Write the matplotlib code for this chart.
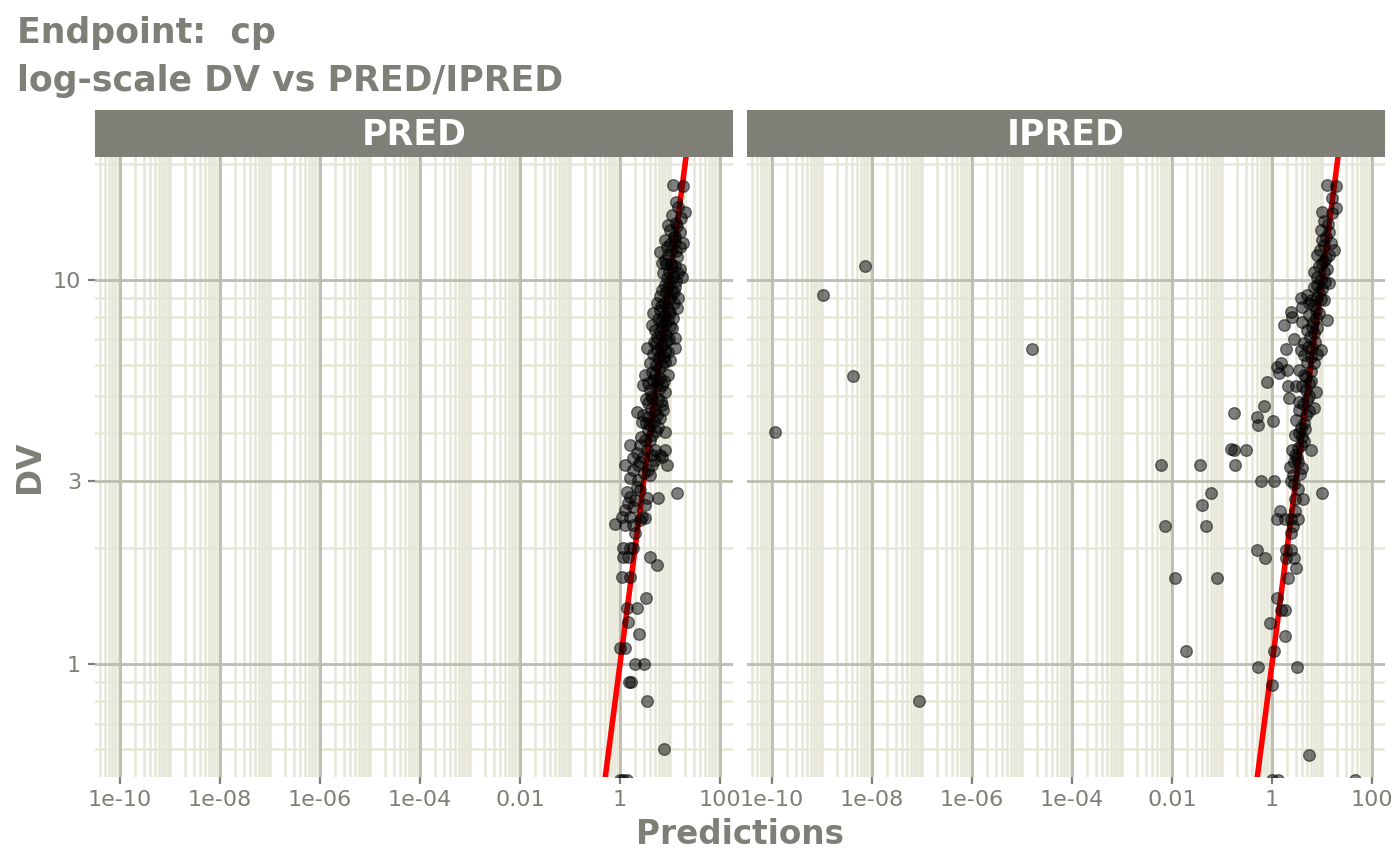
import numpy as np
import matplotlib
matplotlib.use("Agg")
import matplotlib.pyplot as plt
from matplotlib.ticker import FixedLocator, NullFormatter

# colours of the theme
text_col = '#7f7f77'
strip_col = '#7f7f77'
major_col = '#bcbcb0'
minor_col = '#e6e6d8'

# (prediction, DV) pairs
pred_pts = [
    (11.5, 17.7), (18.2, 17.6), (14.5, 15.5), (20.0, 15.0), (11.0, 14.8), (13.2, 14.1),
    (9.12, 13.9), (10.0, 13.5), (15.8, 13.3), (12.6, 13.0), (7.94, 12.7), (12.6, 12.6),
    (18.2, 12.5), (8.71, 12.2), (11.0, 12.0), (6.31, 11.8), (9.12, 11.6), (13.8, 11.5),
    (7.94, 11.3), (6.92, 11.1), (10.5, 11.0), (11.0, 10.8), (15.8, 10.7), (9.55, 10.5),
    (7.24, 10.4), (11.5, 10.2), (17.4, 10.2), (10.0, 9.9), (7.94, 9.7), (12.6, 9.6),
    (8.32, 9.3), (12.0, 9.3), (6.31, 9.1), (10.0, 9.0), (14.5, 8.98), (5.5, 8.7),
    (7.59, 8.7), (8.71, 8.5), (13.8, 8.45), (6.31, 8.35), (4.57, 8.2), (10.0, 8.2),
    (7.24, 8.0), (11.5, 7.97), (9.12, 7.87), (6.61, 7.8), (4.37, 7.64), (6.92, 7.55),
    (11.0, 7.5), (5.01, 7.41), (8.32, 7.2), (5.5, 7.1), (8.71, 6.98), (12.6, 7.06),
    (4.79, 6.9), (7.24, 6.77), (3.47, 6.65), (5.5, 6.57), (9.12, 6.5), (12.6, 6.65),
    (7.59, 6.3), (5.75, 6.25), (10.0, 6.19), (3.98, 6.07), (6.92, 6.01), (6.03, 5.9),
    (3.16, 5.66), (4.37, 5.76), (9.12, 5.66), (4.57, 5.5), (5.5, 5.49), (2.88, 5.33),
    (6.92, 5.33), (5.25, 5.3), (3.98, 5.17), (7.94, 5.1), (4.37, 4.93), (5.75, 4.9),
    (3.31, 4.9), (3.63, 4.78), (6.92, 4.73), (5.01, 4.59), (7.24, 4.59), (2.19, 4.53),
    (2.88, 4.45), (3.63, 4.4), (6.31, 4.37), (4.79, 4.3), (2.75, 4.27), (3.98, 4.19),
    (5.75, 4.14), (3.63, 4.07), (7.94, 4.02), (3.16, 3.83), (3.98, 3.83), (1.58, 3.72),
    (2.51, 3.72), (5.01, 3.61), (7.94, 3.61), (2.19, 3.55), (6.31, 3.5), (2.88, 3.46),
    (6.92, 3.46), (1.82, 3.44), (5.01, 3.4), (2.51, 3.36), (1.26, 3.3), (4.37, 3.3),
    (8.71, 3.3), (1.82, 3.2), (3.63, 3.2), (3.98, 3.11), (1.58, 3.05), (2.29, 3.01),
    (2.19, 2.89), (2.51, 2.84), (1.38, 2.8), (13.8, 2.79), (1.58, 2.72), (3.47, 2.7),
    (5.75, 2.7), (2.0, 2.67), (1.45, 2.62), (3.16, 2.59), (1.82, 2.56), (1.26, 2.52),
    (1.1, 2.41), (1.58, 2.41), (2.75, 2.41), (3.16, 2.4), (2.51, 2.37), (0.79, 2.31),
    (1.26, 2.3), (1.82, 2.3), (2.0, 2.19), (1.15, 2.0), (1.58, 2.0), (1.82, 2.0),
    (1.15, 1.9), (1.45, 1.9), (3.98, 1.9), (5.5, 1.81), (1.1, 1.69), (1.58, 1.69),
    (3.31, 1.49), (1.38, 1.4), (2.19, 1.4), (1.45, 1.29), (2.4, 1.2), (1.0, 1.1),
    (1.26, 1.1), (2.0, 1.0), (3.02, 1.0), (1.51, 0.9), (1.66, 0.9), (3.47, 0.8),
    (7.59, 0.6), (1.0, 0.5), (1.15, 0.5), (1.38, 0.5),
    (13.0, 16.0), (16.5, 14.5), (14.0, 13.8), (11.8, 12.9), (16.0, 12.2), (9.8, 12.4),
    (13.2, 11.9), (8.5, 11.0), (12.5, 10.9), (14.5, 10.4), (8.9, 10.1), (13.0, 9.95),
    (9.3, 9.6), (11.2, 9.3), (6.9, 9.4), (9.0, 8.9), (12.1, 8.7), (6.6, 8.55),
    (9.4, 8.3), (7.8, 8.1), (5.8, 7.9), (8.1, 7.7), (9.9, 7.6), (6.2, 7.3),
    (7.0, 7.15), (9.6, 7.0), (5.3, 6.85), (6.5, 6.7), (8.0, 6.55), (4.5, 6.4),
    (6.4, 6.35), (7.8, 6.1), (5.2, 6.0), (5.0, 5.7), (6.4, 5.55), (7.6, 5.45),
    (3.7, 5.4), (6.0, 5.2), (4.1, 5.0), (6.5, 4.85), (4.2, 4.6), (5.4, 4.45),
    (3.3, 4.25), (5.3, 4.05), (4.4, 3.95), (2.6, 3.9), (3.5, 3.6), (4.4, 3.5),
    (2.3, 3.3), (3.0, 3.15),
]

ipred_pts = [
    (12.6, 17.7), (19.1, 17.6), (10.0, 15.0), (19.1, 15.4), (15.8, 14.9), (11.0, 14.2),
    (9.55, 13.5), (13.8, 13.3), (10.0, 12.7), (15.1, 12.5), (11.0, 12.3), (17.4, 12.0),
    (7.94, 11.6), (12.0, 11.4), (10.0, 11.1), (8.71, 10.9), (6.92, 10.5), (11.0, 10.5),
    (9.55, 10.0), (13.8, 9.8), (7.94, 9.7), (6.92, 9.6), (10.0, 9.5), (3.8, 8.98),
    (5.01, 9.14), (7.94, 8.98), (11.0, 8.87), (6.03, 8.87), (3.98, 8.5), (5.5, 8.7),
    (7.59, 8.35), (2.4, 8.25), (5.5, 8.1), (2.51, 8.0), (3.98, 7.78), (7.59, 7.97),
    (12.6, 7.87), (1.74, 7.64), (6.31, 7.55), (5.0, 7.4), (2.75, 7.0), (4.37, 6.85),
    (6.92, 7.28), (1.91, 6.6), (3.8, 6.57), (6.31, 6.65), (9.55, 6.57), (4.37, 6.38),
    (6.03, 6.3), (6.92, 6.07), (1.26, 5.93), (1.51, 6.07), (2.0, 5.83), (3.47, 5.83),
    (1.38, 5.73), (4.79, 5.59), (5.5, 5.39), (0.79, 5.43), (2.09, 5.3), (3.02, 5.3),
    (4.79, 5.17), (7.59, 5.1), (2.19, 4.93), (3.47, 4.8), (5.01, 4.87), (6.92, 4.63),
    (0.69, 4.69), (3.47, 4.59), (0.174, 4.5), (0.5, 4.4), (0.525, 4.19), (1.05, 4.29),
    (4.79, 4.45), (4.37, 4.24), (3.02, 4.32), (3.8, 4.12), (3.98, 3.9), (2.88, 3.95),
    (3.8, 3.72), (6.03, 3.61), (2.51, 3.61), (0.151, 3.63), (0.174, 3.61), (0.302, 3.61),
    (3.16, 3.46), (2.75, 3.36), (3.31, 3.36), (0.006, 3.3), (0.036, 3.3), (0.182, 3.3),
    (3.98, 3.24), (2.63, 3.11), (3.63, 3.12), (0.6, 3.0), (1.1, 3.0), (2.4, 3.0),
    (10.0, 2.79), (0.06, 2.79), (3.31, 2.86), (2.88, 2.69), (4.17, 2.69), (0.04, 2.6),
    (1.45, 2.5), (2.88, 2.5), (1.26, 2.38), (1.82, 2.38), (2.4, 2.38), (3.31, 2.38),
    (0.0072, 2.29), (0.048, 2.29), (2.63, 2.29), (2.4, 2.19), (0.5, 1.98), (1.91, 1.98),
    (2.4, 1.98), (0.72, 1.89), (1.91, 1.89), (2.75, 1.89), (3.02, 1.78), (0.0115, 1.67),
    (0.079, 1.67), (2.09, 1.67), (1.26, 1.49), (1.51, 1.38), (1.82, 1.38), (0.91, 1.28),
    (1.82, 1.18), (0.019, 1.08), (1.1, 1.08), (0.525, 0.98), (3.16, 0.98), (1.0, 0.88),
    (5.5, 0.58), (1.0, 0.5), (1.32, 0.5), (45.7, 0.5),
    (1.15e-10, 4.02), (1.05e-9, 9.14), (7.2e-9, 10.9), (4.2e-9, 5.62), (8.7e-8, 0.80),
    (1.6e-5, 6.6),
    (15.5, 16.3), (13.0, 14.0), (12.2, 12.9), (9.0, 12.0), (13.5, 11.6), (10.8, 11.2),
    (12.5, 10.7), (8.0, 10.2), (11.5, 9.9), (8.8, 9.3), (9.6, 8.9), (6.9, 8.6),
    (8.7, 8.2), (6.6, 7.75), (7.9, 7.5), (5.7, 7.1), (7.3, 6.9), (5.3, 6.7),
    (7.8, 6.4), (5.0, 6.1), (5.9, 5.8), (4.3, 5.65), (6.1, 5.45), (4.0, 5.3),
    (5.4, 5.0), (4.2, 4.75), (5.5, 4.55), (4.6, 4.1), (3.4, 4.0), (4.4, 3.8),
    (3.3, 3.65), (2.9, 3.5), (2.3, 3.25), (2.7, 2.95),
]

panels = ['PRED', 'IPRED']
x_breaks = [1e-10, 1e-8, 1e-6, 1e-4, 1e-2, 1, 100]
x_labels = ['1e-10', '1e-08', '1e-06', '1e-04', '0.01', '1', '100']
y_breaks = [1, 3, 10]
y_labels = ['1', '3', '10']
xlim = (10 ** -10.5, 10 ** 2.26)
ylim = (0.508, 20.9)


def is_break(v, breaks):
    return any(np.isclose(v, b, rtol=1e-6, atol=0) for b in breaks)


# minor grid: every k*10^n that is not a labelled break
x_minor = [k * 10.0 ** n for n in range(-12, 3) for k in range(1, 10)]
x_minor = [v for v in x_minor if not is_break(v, x_breaks)]
y_minor = [k * 10.0 ** n for n in range(-1, 2) for k in range(1, 10)]
y_minor = [v for v in y_minor if not is_break(v, y_breaks)]

W, H = 1400, 865
fig = plt.figure(figsize=(14, 8.65), dpi=100)
fig.set_facecolor('white')

lefts = [95, 747]
pw = 638
top, bottom = 157, 777

for i, (name, pts) in enumerate(zip(panels, [pred_pts, ipred_pts])):
    l = lefts[i]
    ax = fig.add_axes([l / W, (H - bottom) / H, pw / W, (bottom - top) / H])
    ax.set_xscale('log')
    ax.set_yscale('log')
    ax.set_xlim(*xlim)
    ax.set_ylim(*ylim)
    for s in ax.spines.values():
        s.set_visible(False)

    ax.xaxis.set_major_locator(FixedLocator(x_breaks))
    ax.xaxis.set_minor_locator(FixedLocator(x_minor))
    ax.yaxis.set_major_locator(FixedLocator(y_breaks))
    ax.yaxis.set_minor_locator(FixedLocator(y_minor))
    ax.set_xticklabels(x_labels)
    ax.xaxis.set_minor_formatter(NullFormatter())
    ax.yaxis.set_minor_formatter(NullFormatter())
    if i == 0:
        ax.set_yticklabels(y_labels)
        ax.tick_params(axis='y', which='major', length=5, width=1.6,
                       color=text_col, labelcolor=text_col, labelsize=16, pad=5)
    else:
        ax.tick_params(axis='y', which='major', length=0, labelleft=False)
    ax.tick_params(axis='x', which='major', length=5, width=1.6,
                   color=text_col, labelcolor=text_col, labelsize=16, pad=4)
    ax.tick_params(which='minor', length=0)

    # minor grid from the axis, major grid drawn on top of it (as ggplot does)
    ax.grid(which='minor', color=minor_col, linewidth=1.8)
    ax.grid(which='major', visible=False)
    ax.set_axisbelow(True)
    for xb in x_breaks:
        ax.axvline(xb, color=major_col, linewidth=2.0, zorder=1)
    for yb in y_breaks:
        ax.axhline(yb, color=major_col, linewidth=2.0, zorder=1)

    px, py = zip(*pts)
    ax.axline((1, 1), (10, 10), color='red', linewidth=4.0, zorder=2)
    ax.scatter(px, py, s=70, c='black', alpha=0.5, edgecolors='black',
               linewidths=1.0, zorder=3)

    # facet strip
    sax = fig.add_axes([l / W, (H - top) / H, pw / W, 47 / H])
    sax.set_facecolor(strip_col)
    sax.set_xticks([])
    sax.set_yticks([])
    for s in sax.spines.values():
        s.set_visible(False)
    sax.text(0.5, 0.47, name, transform=sax.transAxes, ha='center', va='center',
             color='white', fontsize=25, fontweight='bold')

fig.text(17 / W, 1 - 43 / H, "Endpoint:  cp", fontsize=25, fontweight='bold',
         color=text_col, va='baseline')
fig.text(17 / W, 1 - 91 / H, "log-scale DV vs PRED/IPRED", fontsize=25,
         fontweight='bold', color=text_col, va='baseline')
fig.text(740 / W, 1 - 835 / H, "Predictions", fontsize=23.5, fontweight='bold',
         color=text_col, ha='center', va='center')
fig.text(30 / W, 1 - 467 / H, "DV", fontsize=23.5, fontweight='bold',
         color=text_col, ha='center', va='center', rotation=90)

fig.savefig('out.png', dpi=100, facecolor='white')
